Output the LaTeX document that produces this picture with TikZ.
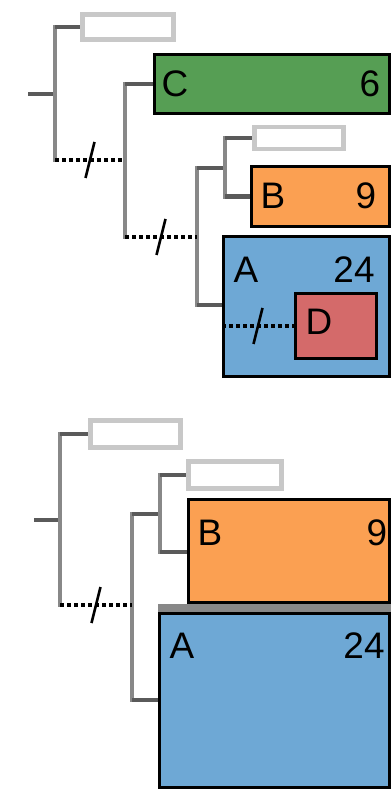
\documentclass[tikz,border=0pt]{standalone}
\usepackage{fontspec}
\setmainfont{Liberation Sans}
\usepackage{tikz}
\usetikzlibrary{positioning, calc}

\definecolor{cladeC}{RGB}{86,158,84}
\definecolor{cladeB}{RGB}{251,160,82}
\definecolor{cladeA}{RGB}{110,168,213}
\definecolor{cladeD}{RGB}{212,106,106}
\definecolor{branchgray}{RGB}{136,136,136}
\definecolor{stubgray}{RGB}{90,90,90}
\definecolor{emptygray}{RGB}{200,200,200}

\begin{document}
\begin{tikzpicture}[
  clade/.style={
    draw=black, line width=1.7pt, inner sep=0pt
  },
  emptyleaf/.style={
    draw=emptygray, line width=2.8pt, fill=white, inner sep=0pt
  },
  branch/.style={branchgray, line width=2.3pt, line cap=rect},
  stub/.style={stubgray, line width=2.3pt},
  lost/.style={black, line width=2pt, dash pattern=on 2pt off 2pt},
  cut/.style={black, line width=1.5pt},
  lbl/.style={font=\fontsize{21}{21}\selectfont, inner sep=0pt}
]
\useasboundingbox (0,0) rectangle (7.82,-15.80);

% ---------- upper tree ----------
% Leaves
\node[emptyleaf, minimum width=1.82cm, minimum height=0.5cm] (gone1) at (2.56,-0.54) {};
\node[clade, fill=cladeC, minimum width=4.69cm, minimum height=1.18cm] (cC) at (5.44,-1.68) {};
\node[emptyleaf, minimum width=1.78cm, minimum height=0.44cm] (gone2) at (5.98,-2.76) {};
\node[clade, fill=cladeB, minimum width=2.75cm, minimum height=1.2cm] (cB) at (6.405,-3.93) {};
\node[clade, fill=cladeA, minimum width=3.31cm, minimum height=2.8cm] (cA) at (6.125,-6.13) {};
\node[clade, fill=cladeD, minimum width=1.62cm, minimum height=1.3cm] (cD) at (6.72,-6.52) {};

% Labels
\node[lbl] (labC) at (3.50,-1.67) {C};
\node[lbl] (numC) at (7.40,-1.67) {6};
\node[lbl] (labB) at (5.46,-3.92) {B};
\node[lbl] (numB) at (7.32,-3.92) {9};
\node[lbl] (labA) at (4.92,-5.40) {A};
\node[lbl] (numA) at (7.08,-5.40) {24};
\node[lbl] (labD) at (6.38,-6.44) {D};

% Internal points
\coordinate (root1) at (1.10,-1.88);
\coordinate (n1top) at (1.10,-0.54);
\coordinate (n1bot) at (1.10,-3.20);
\coordinate (n2top) at (2.50,-1.68);
\coordinate (n2bot) at (2.50,-4.74);
\coordinate (n3top) at (3.94,-3.36);
\coordinate (n3bot) at (3.94,-6.10);
\coordinate (n4top) at (4.50,-2.76);
\coordinate (n4bot) at (4.50,-3.93);

% Branches
\draw[stub] (0.56,-1.88) -- (root1);
\draw[branch] (n1top) -- (n1bot);
\draw[stub] (n1top) -- (gone1.west);
\draw[branch] (n2top) -- (n2bot);
\draw[stub] (n2top) -- (cC.west);
\draw[branch] (n3top) -- (n3bot);
\draw[stub] (n3top) -- (4.50,-3.36);
\draw[branch] (n4top) -- (n4bot);
\draw[stub] (n4top) -- (gone2.west);
\draw[stub] (n4bot) -- (cB.west);
\draw[stub] (n3bot) -- (n3bot -| cA.west);

% Lost lineages
\draw[lost] (n1bot) -- coordinate[pos=0.5] (cut1) (2.50,-3.20);
\draw[cut] ($(cut1)+(-0.09,-0.36)$) -- ($(cut1)+(0.09,0.36)$);
\draw[lost] (n2bot) -- coordinate[pos=0.5] (cut2) (3.94,-4.74);
\draw[cut] ($(cut2)+(-0.09,-0.36)$) -- ($(cut2)+(0.09,0.36)$);
\draw[lost] (cA.west |- cD.west) -- coordinate[pos=0.5] (cut3) (cD.west);
\draw[cut] ($(cut3)+(-0.09,-0.36)$) -- ($(cut3)+(0.09,0.36)$);

% ---------- lower tree ----------
% Leaves
\node[emptyleaf, minimum width=1.8cm, minimum height=0.54cm] (gone3) at (2.71,-8.68) {};
\node[emptyleaf, minimum width=1.86cm, minimum height=0.54cm] (gone4) at (4.70,-9.50) {};
\draw[branchgray, line width=4.6pt] (3.16,-12.16) -- (7.82,-12.16);
\node[clade, fill=cladeB, minimum width=4.01cm, minimum height=2.06cm] (lB) at (5.775,-11.02) {};
\node[clade, fill=cladeA, minimum width=4.59cm, minimum height=3.48cm] (lA) at (5.485,-14.01) {};

% Labels
\node[lbl] (labB2) at (4.20,-10.66) {B};
\node[lbl] (numB2) at (7.54,-10.66) {9};
\node[lbl] (labA2) at (3.64,-12.92) {A};
\node[lbl] (numA2) at (7.28,-12.92) {24};

% Internal points
\coordinate (r2) at (1.20,-10.40);
\coordinate (m1top) at (1.20,-8.68);
\coordinate (m1bot) at (1.20,-12.10);
\coordinate (m2top) at (2.64,-10.28);
\coordinate (m2bot) at (2.64,-14.00);
\coordinate (m3top) at (3.20,-9.50);
\coordinate (m3bot) at (3.20,-11.04);

% Branches
\draw[stub] (0.68,-10.40) -- (r2);
\draw[branch] (m1top) -- (m1bot);
\draw[stub] (m1top) -- (gone3.west);
\draw[branch] (m2top) -- (m2bot);
\draw[stub] (m2top) -- (3.20,-10.28);
\draw[branch] (m3top) -- (m3bot);
\draw[stub] (m3top) -- (gone4.west);
\draw[stub] (m3bot) -- (lB.west |- m3bot);
\draw[stub] (m2bot) -- (lA.west |- m2bot);

% Lost lineage
\draw[lost] (m1bot) -- coordinate[pos=0.5] (cut4) (2.64,-12.10);
\draw[cut] ($(cut4)+(-0.09,-0.36)$) -- ($(cut4)+(0.09,0.36)$);

\end{tikzpicture}
\end{document}
